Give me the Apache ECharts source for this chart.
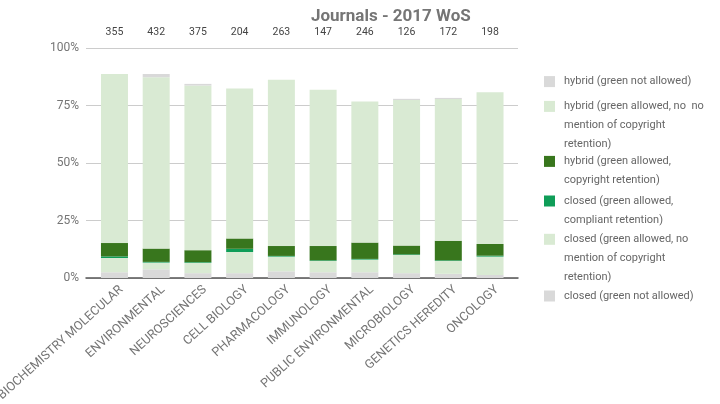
<!DOCTYPE html>
<html>
<head>
<meta charset="utf-8">
<script src="https://cdn.jsdelivr.net/npm/echarts@6/dist/echarts.min.js"></script>
<style>
  html, body { margin: 0; padding: 0; background: #ffffff; }
  #chart { width: 720px; height: 404px; }
</style>
</head>
<body>
<div id="chart"></div>
<script>
// Subject categories and number of journals in each
const categories = ['BIOCHEMISTRY MOLECULAR', 'ENVIRONMENTAL', 'NEUROSCIENCES', 'CELL BIOLOGY', 'PHARMACOLOGY',
  'IMMUNOLOGY', 'PUBLIC ENVIRONMENTAL', 'MICROBIOLOGY', 'GENETICS HEREDITY', 'ONCOLOGY'];
const journalCounts = ['355', '432', '375', '204', '263', '147', '246', '126', '172', '198'];

// Share of journals (%) per policy type, stacked from the bottom up
const closedNotAllowed = [2.5, 3.8, 2.1, 2.1, 2.9, 2.5, 2.5, 2.1, 1.8, 1.3];
const closedNoMention  = [6.2, 2.9, 4.5, 9.2, 6.4, 4.9, 5.5, 7.9, 5.6, 8.0];
const closedCompliant  = [0.7, 0.3, 0.3, 1.4, 0.3, 0.3, 0.3, 0.3, 0.3, 0.4];
const hybridRetention  = [5.8, 5.8, 5.2, 4.5, 4.3, 6.2, 7.1, 3.8, 8.5, 5.1];
const hybridNoMention  = [73.5, 74.5, 71.6, 65.2, 72.3, 68.0, 61.3, 63.3, 61.6, 66.0];
const hybridNotAllowed = [0, 1.4, 0.7, 0, 0, 0, 0, 0.5, 0.5, 0];

// Percentage axis ticks
const yTicks = [0, 25, 50, 75, 100];

const FONT = 'Roboto';
const GRAY = '#d9d9d9';
const LIGHT_GREEN = '#d9ead3';
const DARK_GREEN = '#38761d';
const BRIGHT_GREEN = '#0f9d58';

const seriesDefs = [
  { name: 'closed (green not allowed)', data: closedNotAllowed, color: GRAY, lines: 1, top: 296 },
  { name: 'closed (green allowed, no\nmention of copyright\nretention)', data: closedNoMention, color: LIGHT_GREEN, lines: 3, top: 239.3 },
  { name: 'closed (green allowed,\ncompliant retention)', data: closedCompliant, color: BRIGHT_GREEN, lines: 2, top: 201 },
  { name: 'hybrid (green allowed,\ncopyright retention)', data: hybridRetention, color: DARK_GREEN, lines: 2, top: 161.4 },
  { name: 'hybrid (green allowed, no  no\nmention of copyright\nretention)', data: hybridNoMention, color: LIGHT_GREEN, lines: 3, top: 106.4 },
  { name: 'hybrid (green not allowed)', data: hybridNotAllowed, color: GRAY, lines: 1, top: 81.6 }
];

const LINE_H = 19;
const ICON = 11;

// Square swatch placed next to the first text line of a multi-line entry
function swatchPath(lines) {
  const h = lines * LINE_H;
  const y0 = LINE_H / 2 - ICON / 2;
  const y1 = y0 + ICON;
  return 'path://M0,0L0,0M0,' + y0 + 'L' + ICON + ',' + y0 + 'L' + ICON + ',' + y1 + 'L0,' + y1 + 'Z' +
    'M' + ICON + ',' + h + 'L' + ICON + ',' + h;
}

const legends = seriesDefs.map(s => ({
  data: [{ name: s.name, icon: swatchPath(s.lines) }],
  left: 544,
  top: s.top - LINE_H / 2,
  padding: 0,
  orient: 'vertical',
  itemWidth: ICON,
  itemHeight: s.lines * LINE_H,
  selectedMode: false,
  textStyle: { color: '#666666', fontSize: 11, lineHeight: LINE_H, fontFamily: FONT, padding: [0, 0, 0, 4] }
}));

const chart = echarts.init(document.getElementById('chart'), null, { renderer: 'canvas' });

chart.setOption({
  animation: false,
  backgroundColor: '#ffffff',
  title: {
    text: 'Journals - 2017 WoS',
    left: 311,
    top: 8,
    padding: 0,
    textStyle: { fontFamily: FONT, fontSize: 17, fontWeight: 'bold', color: '#757575' }
  },
  legend: legends,
  grid: [
    { left: 86, top: 48, width: 432, height: 230, outerBoundsMode: 'none', containLabel: false },
    { left: 93.6, top: 48, width: 417.3, height: 230, outerBoundsMode: 'none', containLabel: false },
    { left: 100.6, top: 48, width: 417.3, height: 230, outerBoundsMode: 'none', containLabel: false }
  ],
  xAxis: [
    {
      gridIndex: 0, type: 'value', min: 0, max: 1,
      axisLine: { show: true, lineStyle: { color: '#555555', width: 1.5 } },
      axisTick: { show: false }, axisLabel: { show: false }, splitLine: { show: false }
    },
    {
      gridIndex: 1, type: 'category', data: categories,
      axisLine: { show: false }, axisTick: { show: false }, axisLabel: { show: false }, splitLine: { show: false }
    },
    {
      gridIndex: 1, type: 'category', position: 'top', data: journalCounts,
      axisLine: { show: false }, axisTick: { show: false }, splitLine: { show: false },
      axisLabel: { color: '#444444', fontSize: 10.5, fontFamily: FONT, margin: 10, interval: 0 }
    },
    {
      gridIndex: 2, type: 'category', data: categories,
      axisLine: { show: false }, axisTick: { show: false }, splitLine: { show: false },
      axisLabel: { color: '#747474', fontSize: 12.5, fontFamily: FONT, rotate: 42, margin: 10, interval: 0 }
    }
  ],
  yAxis: [
    {
      gridIndex: 0, type: 'value', min: yTicks[0], max: yTicks[yTicks.length - 1], interval: yTicks[1] - yTicks[0],
      axisLine: { show: false }, axisTick: { show: false },
      axisLabel: { formatter: '{value}%', color: '#757575', fontSize: 12, fontFamily: FONT, margin: 7 },
      splitLine: { show: true, lineStyle: { color: '#cccccc', width: 1 } }
    },
    { gridIndex: 1, type: 'value', min: 0, max: 100, show: false },
    { gridIndex: 2, type: 'value', min: 0, max: 100, show: false }
  ],
  series: seriesDefs.map(s => ({
    name: s.name,
    type: 'bar',
    xAxisIndex: 1,
    yAxisIndex: 1,
    stack: 'share',
    barWidth: 27,
    data: s.data,
    itemStyle: { color: s.color, borderWidth: 0 },
    emphasis: { disabled: true }
  }))
});
</script>
</body>
</html>
